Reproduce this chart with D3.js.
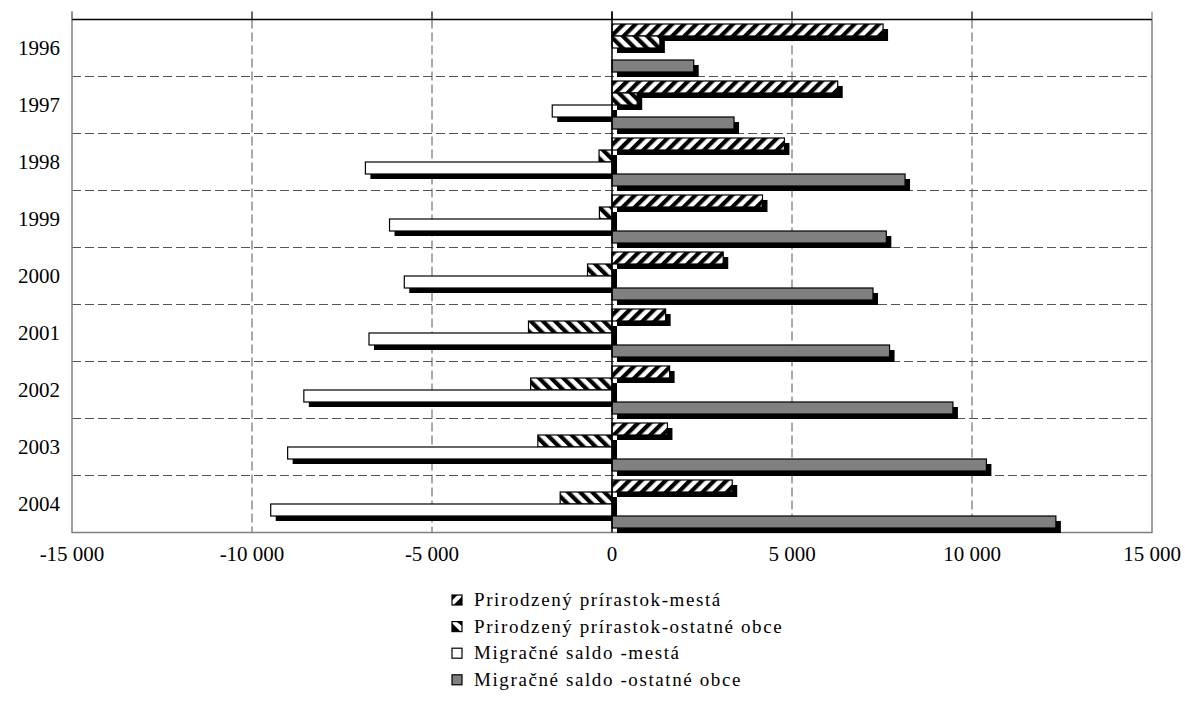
<!DOCTYPE html>
<html>
<head>
<meta charset="utf-8">
<script src="https://cdn.jsdelivr.net/npm/d3@7"></script>
<style>
  html, body { margin: 0; padding: 0; background: #fff; }
  svg { display: block; }
  text { font-family: "Liberation Serif", "Times New Roman", serif; fill: #000; }
</style>
</head>
<body>
<svg id="chart" width="1185" height="720"></svg>
<script>
const years = ["1996", "1997", "1998", "1999", "2000", "2001", "2002", "2003", "2004"];
const seriesNames = [
  "Prirodzený prírastok-mestá",
  "Prirodzený prírastok-ostatné obce",
  "Migračné saldo -mestá",
  "Migračné saldo -ostatné obce"
];
const natMesta   = [7530, 6270, 4790, 4180, 3090, 1490, 1600, 1540, 3340];
const natOstatne = [1330, 700, -360, -350, -680, -2320, -2260, -2060, -1440];
const migMesta   = [0, -1660, -6850, -6180, -5770, -6750, -8560, -9010, -9480];
const migOstatne = [2270, 3390, 8140, 7620, 7250, 7710, 9470, 10400, 12330];
const xTicks = [-15000, -10000, -5000, 0, 5000, 10000, 15000];

const seriesValues = [natMesta, natOstatne, migMesta, migOstatne];
const fills = ["url(#hatchUp)", "url(#hatchDown)", "#ffffff", "#808080"];

const svg = d3.select("#chart");
const L = 72, R = 1152, T = 19.5, B = 532.5;

const x = d3.scaleLinear().domain([-15000, 15000]).range([L, R]);
const y = d3.scaleBand().domain(years).range([T, B]).padding(0);
const ys = d3.scaleBand().domain(d3.range(4)).range([0, y.bandwidth()]).paddingInner(0).paddingOuter(0.375);

// patterns
const defs = svg.append("defs");
function hatch(id, angle) {
  const p = defs.append("pattern").attr("id", id)
    .attr("patternUnits", "userSpaceOnUse")
    .attr("width", 8.6).attr("height", 8.6)
    .attr("patternTransform", `rotate(${angle})`);
  p.append("rect").attr("width", 8.6).attr("height", 8.6).attr("fill", "#fff");
  p.append("rect").attr("width", 4.2).attr("height", 8.6).attr("fill", "#000");
}
hatch("hatchUp", 45);
hatch("hatchDown", -45);

// horizontal category grid lines (dashed)
svg.append("g").selectAll("line").data(years.slice(1)).join("line")
  .attr("x1", L).attr("x2", R)
  .attr("y1", d => y(d)).attr("y2", d => y(d))
  .attr("stroke", "#555").attr("stroke-width", 1).attr("stroke-dasharray", "9,4");

// vertical value grid lines (dashed)
svg.append("g").selectAll("line").data(xTicks.filter(t => t !== 0 && Math.abs(t) !== 15000)).join("line")
  .attr("x1", d => x(d)).attr("x2", d => x(d))
  .attr("y1", T).attr("y2", B)
  .attr("stroke", "#555").attr("stroke-width", 1).attr("stroke-dasharray", "9,4");

// plot border (gray) left, right, bottom
svg.append("path")
  .attr("d", `M${L},${T - 8}V${B}H${R}V${T}`)
  .attr("fill", "none").attr("stroke", "#808080").attr("stroke-width", 1.5);

// bars with shadows
const dx = 5, dy = 5;
const gBars = svg.append("g");
years.forEach((yr, i) => {
  seriesValues.forEach((vals, s) => {
    const v = vals[i];
    if (v === 0) return;
    const x0 = Math.min(x(0), x(v));
    const w = Math.abs(x(v) - x(0));
    const yy = y(yr) + ys(s);
    const h = ys.bandwidth();
    gBars.append("rect")
      .attr("x", x0 + dx).attr("y", yy + dy).attr("width", w).attr("height", h)
      .attr("fill", "#000");
    gBars.append("rect")
      .attr("x", x0).attr("y", yy).attr("width", w).attr("height", h)
      .attr("fill", fills[s]).attr("stroke", "#000").attr("stroke-width", 1.2);
  });
});

// top value axis line and ticks
svg.append("line").attr("x1", L).attr("x2", R).attr("y1", T).attr("y2", T)
  .attr("stroke", "#000").attr("stroke-width", 1.5);
svg.append("g").selectAll("line").data(xTicks).join("line")
  .attr("x1", d => x(d)).attr("x2", d => x(d))
  .attr("y1", T - 8).attr("y2", T)
  .attr("stroke", d => Math.abs(d) === 15000 ? "#808080" : "#000").attr("stroke-width", 1.2);

// zero category axis
svg.append("line").attr("x1", x(0)).attr("x2", x(0)).attr("y1", T - 8).attr("y2", B)
  .attr("stroke", "#000").attr("stroke-width", 1.5);

// x tick labels
const fmt = d3.formatLocale({ decimal: ",", thousands: " ", grouping: [3], currency: ["", ""], minus: "-" }).format(",d");
svg.append("g").selectAll("text").data(xTicks).join("text")
  .attr("x", d => x(d)).attr("y", 561)
  .attr("text-anchor", "middle")
  .style("font-size", "21px")
  .text(d => fmt(d));

// y category labels
svg.append("g").selectAll("text").data(years).join("text")
  .attr("x", 60).attr("y", d => y(d) + y.bandwidth() / 2)
  .attr("dy", "0.35em")
  .attr("text-anchor", "end")
  .style("font-size", "21px")
  .text(d => d);

// legend
const legend = svg.append("g");
seriesNames.forEach((name, s) => {
  const cy = 600 + s * 26.6;
  const gx = 452, sz = 10;
  const g = legend.append("g");
  g.append("rect").attr("x", gx).attr("y", cy - sz / 2).attr("width", sz).attr("height", sz)
    .attr("fill", s === 3 ? "#808080" : "#fff").attr("stroke", "#000").attr("stroke-width", 1.2);
  if (s === 0) {
    g.append("path").attr("d", `M${gx},${cy - sz/2}H${gx + sz*0.55}L${gx},${cy + sz/2 - sz*0.45}Z M${gx + sz},${cy - sz/2 + sz*0.15}V${cy + sz/2}H${gx + sz*0.15}Z`)
      .attr("fill", "#000");
  } else if (s === 1) {
    g.append("path").attr("d", `M${gx},${cy - sz/2 + sz*0.15}L${gx + sz*0.85},${cy + sz/2}H${gx}Z M${gx + sz*0.45},${cy - sz/2}H${gx + sz}V${cy + sz/2 - sz*0.55}Z`)
      .attr("fill", "#000");
  }
  g.append("text").attr("x", 474).attr("y", cy).attr("dy", "0.33em")
    .style("font-size", "19px").style("letter-spacing", "1.6px")
    .text(name);
});
</script>
</body>
</html>
